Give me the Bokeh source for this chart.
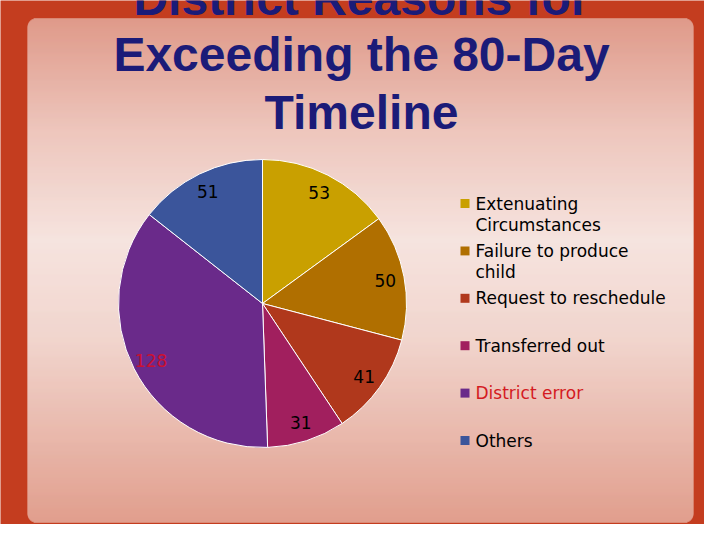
import math
from bokeh.plotting import figure
from bokeh.models import Range1d
from bokeh.core.properties import value
from bokeh.embed import file_html
from bokeh.resources import INLINE

# ---------------- data ----------------
title_lines = ["District Reasons for", "Exceeding the 80-Day", "Timeline"]
categories = ["Extenuating Circumstances", "Failure to produce child",
              "Request to reschedule", "Transferred out", "District error", "Others"]
legend_lines = [["Extenuating", "Circumstances"], ["Failure to produce", "child"],
                ["Request to reschedule"], ["Transferred out"], ["District error"], ["Others"]]
counts = [53, 50, 41, 31, 128, 51]

# ---------------- styles ----------------
colors = ["#c9a000", "#b06f00", "#b0381c", "#a11f5e", "#6a2a8a", "#3b559b"]
label_colors = ["#000000", "#000000", "#000000", "#000000", "#cc1030", "#000000"]
legend_text_colors = ["#000000", "#000000", "#000000", "#000000", "#d41a22", "#000000"]

PW, PH = 704, 524


def Y(ry):
    return PH - ry


p = figure(width=PW, height=PH,
           x_range=Range1d(0, PW), y_range=Range1d(0, PH),
           output_backend="svg", toolbar_location=None, min_border=0)
p.axis.visible = False
p.grid.visible = False
p.outline_line_color = None
p.background_fill_color = "#c43d1f"
p.border_fill_color = "#c43d1f"

# ---------------- gradient panel ----------------
stops = [(18, (0xe1, 0xa0, 0x91)), (130, (0xf0, 0xcf, 0xc7)), (240, (0xf9, 0xef, 0xec)),
         (340, (0xf4, 0xdf, 0xd9)), (522, (0xe3, 0xa5, 0x95))]


def grad(ry):
    for (y0, c0), (y1, c1) in zip(stops[:-1], stops[1:]):
        if y0 <= ry <= y1:
            t = (ry - y0) / (y1 - y0)
            c = [round(a + (b - a) * t) for a, b in zip(c0, c1)]
            return "#%02x%02x%02x" % tuple(c)
    return "#%02x%02x%02x" % stops[-1][1]


px0, px1, py0, py1, rad = 27, 693, 18, 522, 9
L, R_, T, B, F = [], [], [], [], []
for ry in range(py0, py1):
    d = min(ry + 0.5 - py0, py1 - (ry + 0.5))
    inset = 0.0
    if d < rad:
        inset = rad - math.sqrt(max(rad ** 2 - (rad - d) ** 2, 0))
    L.append(px0 + inset)
    R_.append(px1 - inset)
    T.append(Y(ry) + 0.3)
    B.append(Y(ry + 1) - 0.3)
    F.append(grad(ry + 0.5))
p.quad(left=L, right=R_, top=T, bottom=B, fill_color=F, line_color=None)

# ---------------- title ----------------
title_y = [-2, 54, 112]
p.text(x=[361] * len(title_lines), y=[Y(v) for v in title_y], text=title_lines,
       text_align="center", text_baseline="middle",
       text_font=value("Liberation Sans"), text_font_style="bold",
       text_font_size="48px", text_color="#1b1b78")

# ---------------- pie ----------------
cx, cy, Rad = 262, Y(303), 144
total = float(sum(counts))
starts, ends, lx, ly = [], [], [], []
cum = 0.0
for c in counts:
    a0 = math.pi / 2 - 2 * math.pi * cum / total
    a1 = math.pi / 2 - 2 * math.pi * (cum + c) / total
    am = math.pi / 2 - 2 * math.pi * (cum + c / 2.0) / total
    starts.append(a0)
    ends.append(a1)
    lx.append(cx + 125 * math.cos(am))
    ly.append(cy + 125 * math.sin(am))
    cum += c

p.wedge(x=cx, y=cy, radius=Rad, start_angle=starts, end_angle=ends,
        direction="clock", fill_color=colors, line_color="white", line_width=1)

p.text(x=lx, y=ly, text=[str(c) for c in counts], text_align="center",
       text_baseline="middle", text_font=value("DejaVu Sans"),
       text_font_size="17px", text_color=label_colors)

# ---------------- legend ----------------
item_y = [203 + i * 47.4 for i in range(len(categories))]
p.rect(x=[464.5] * len(categories), y=[Y(v) for v in item_y], width=9, height=9,
       fill_color=colors, line_color=None)
tx, ty, tt, tc = [], [], [], []
for i, lines in enumerate(legend_lines):
    for k, s in enumerate(lines):
        tx.append(475)
        ty.append(Y(item_y[i] + k * 21.5))
        tt.append(s)
        tc.append(legend_text_colors[i])
p.text(x=tx, y=ty, text=tt, text_align="left", text_baseline="middle",
       text_font=value("DejaVu Sans"), text_font_size="17px", text_color=tc)

open("out.html", "w").write(file_html(p, INLINE))
